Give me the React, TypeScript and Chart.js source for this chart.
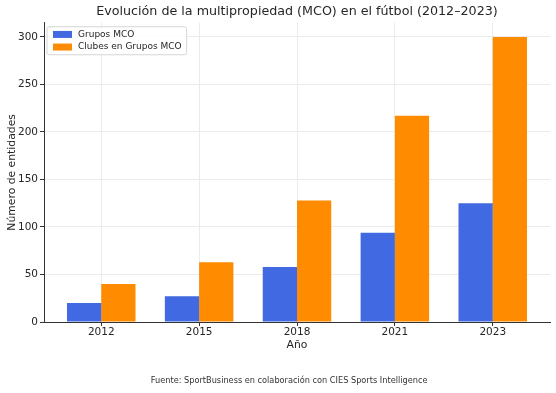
import React, { useEffect, useRef } from "react";
import { Chart, registerables } from "chart.js";

Chart.register(...registerables);

const years = ["2012", "2015", "2018", "2021", "2023"];
const gruposMCO = [20, 27, 58, 94, 125];
const clubesMCO = [40, 63, 128, 217, 300];
const yTicks = [0, 50, 100, 150, 200, 250, 300];
const footerText = "Fuente: SportBusiness en colaboración con CIES Sports Intelligence";

const FONT = "'DejaVu Sans', sans-serif";
const TEXT = "#262626";

const insideLegend = {
  id: "insideLegend",
  afterDatasetsDraw(chart: any) {
    const { ctx, chartArea } = chart;
    const ds = chart.data.datasets;
    ctx.save();
    ctx.font = `9px ${FONT}`;
    let maxW = 0;
    ds.forEach((d: any) => {
      maxW = Math.max(maxW, ctx.measureText(d.label).width);
    });
    const x0 = chartArea.left + 3;
    const y0 = chartArea.top + 4;
    const swW = 19;
    const swH = 7;
    const rowH = 12.6;
    const w = 6 + swW + 6 + maxW + 5;
    const h = 28;
    const r = 2;
    ctx.beginPath();
    ctx.moveTo(x0 + r, y0);
    ctx.lineTo(x0 + w - r, y0);
    ctx.quadraticCurveTo(x0 + w, y0, x0 + w, y0 + r);
    ctx.lineTo(x0 + w, y0 + h - r);
    ctx.quadraticCurveTo(x0 + w, y0 + h, x0 + w - r, y0 + h);
    ctx.lineTo(x0 + r, y0 + h);
    ctx.quadraticCurveTo(x0, y0 + h, x0, y0 + h - r);
    ctx.lineTo(x0, y0 + r);
    ctx.quadraticCurveTo(x0, y0, x0 + r, y0);
    ctx.closePath();
    ctx.fillStyle = "rgba(255,255,255,0.8)";
    ctx.fill();
    ctx.strokeStyle = "#d6d6d6";
    ctx.lineWidth = 1;
    ctx.stroke();
    ds.forEach((d: any, i: number) => {
      const cy = y0 + 7.7 + i * rowH;
      ctx.fillStyle = d.backgroundColor;
      ctx.fillRect(x0 + 6, cy - swH / 2, swW, swH);
      ctx.fillStyle = TEXT;
      ctx.textBaseline = "middle";
      ctx.textAlign = "left";
      ctx.fillText(d.label, x0 + 6 + swW + 6, cy);
    });
    ctx.restore();
  },
};

const footer = {
  id: "footer",
  afterDraw(chart: any) {
    const { ctx, width, height } = chart;
    ctx.save();
    ctx.font = `8.2px ${FONT}`;
    ctx.fillStyle = "#333";
    ctx.textAlign = "center";
    ctx.textBaseline = "middle";
    ctx.fillText(footerText, width * 0.52, height - 12);
    ctx.restore();
  },
};

export default function App() {
  const ref = useRef<HTMLCanvasElement | null>(null);

  useEffect(() => {
    if (!ref.current) return;
    const chart = new Chart(ref.current, {
      type: "bar",
      data: {
        datasets: [
          {
            label: "Grupos MCO",
            data: gruposMCO.map((v, i) => ({ x: i, y: v })),
            backgroundColor: "#4169E1",
            categoryPercentage: 0.7,
            barPercentage: 1.0,
          },
          {
            label: "Clubes en Grupos MCO",
            data: clubesMCO.map((v, i) => ({ x: i, y: v })),
            backgroundColor: "#FF8C00",
            categoryPercentage: 0.7,
            barPercentage: 1.0,
          },
        ],
      },
      options: {
        responsive: false,
        animation: false,
        layout: { padding: { left: 0, right: 6, top: 0, bottom: 0 } },
        plugins: {
          legend: { display: false },
          tooltip: { enabled: false },
          title: {
            display: true,
            fullSize: false,
            text: "Evolución de la multipropiedad (MCO) en el fútbol (2012–2023)",
            color: TEXT,
            font: { family: FONT, size: 12.7, weight: "normal" },
            padding: { top: 4.5, bottom: 3 },
          },
        },
        scales: {
          x: {
            type: "linear",
            offset: false,
            min: -0.585,
            max: 4.585,
            afterBuildTicks: (scale: any) => {
              scale.ticks = years.map((_, i) => ({ value: i }));
            },
            afterFit: (scale: any) => {
              scale.height = 71;
            },
            ticks: {
              color: TEXT,
              font: { family: FONT, size: 10.5 },
              padding: 0,
              callback: (v: any) => years[v as number] ?? "",
              maxRotation: 0,
            },
            grid: {
              offset: false,
              color: "#ebebeb",
              lineWidth: 1,
              tickColor: "#333",
              tickLength: 4,
            },
            border: { display: true, color: "#333", width: 1 },
            title: {
              display: true,
              text: "Año",
              color: TEXT,
              font: { family: FONT, size: 10.8 },
              padding: { top: 0, bottom: 41 },
            },
          },
          y: {
            type: "linear",
            min: 0,
            max: 315,
            afterBuildTicks: (scale: any) => {
              scale.ticks = yTicks.map((v) => ({ value: v }));
            },
            afterFit: (scale: any) => {
              scale.width = 44;
            },
            ticks: {
              color: TEXT,
              font: { family: FONT, size: 10.5 },
              padding: 2,
            },
            grid: {
              color: "#ebebeb",
              lineWidth: 1,
              tickColor: "#333",
              tickLength: 4,
            },
            border: { display: true, color: "#333", width: 1 },
            title: {
              display: true,
              text: "Número de entidades",
              color: TEXT,
              font: { family: FONT, size: 10.8 },
              padding: { top: 6, bottom: 0 },
            },
          },
        },
      },
      plugins: [insideLegend, footer],
    });
    return () => chart.destroy();
  }, []);

  return (
    <div style={{ position: "absolute", left: 0, top: 0, width: 556, height: 393, background: "#fff" }}>
      <canvas ref={ref} width={556} height={393} />
    </div>
  );
}
